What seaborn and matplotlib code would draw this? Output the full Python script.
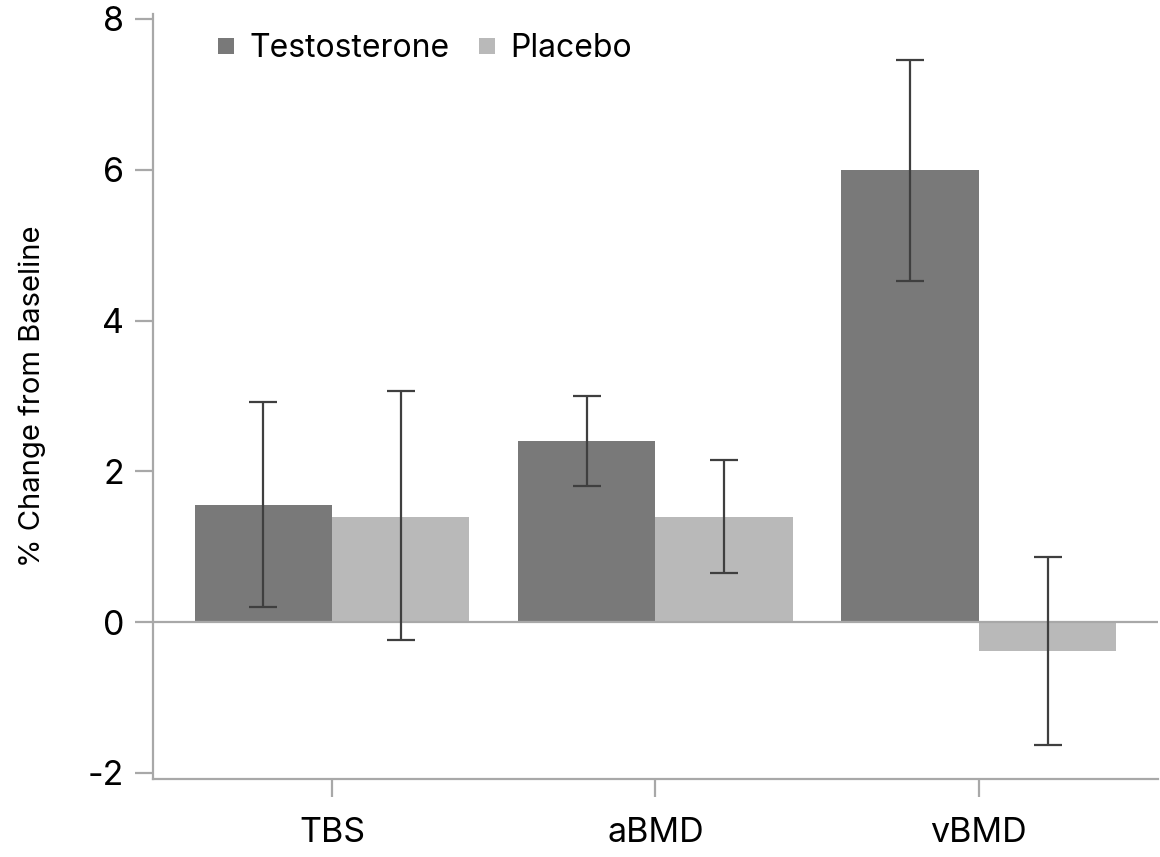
import numpy as np
import pandas as pd
import seaborn as sns
import matplotlib.pyplot as plt

# Values
measures = ["TBS", "aBMD", "vBMD"]
groups = ["Testosterone", "Placebo"]
testo_mean = [1.55, 2.40, 6.00]
testo_low = [0.20, 1.80, 4.53]
testo_high = [2.92, 3.00, 7.46]
placebo_mean = [1.40, 1.40, -0.38]
placebo_low = [-0.23, 0.65, -1.63]
placebo_high = [3.06, 2.15, 0.87]

df = pd.DataFrame({
    "measure": measures * 2,
    "group": [groups[0]] * 3 + [groups[1]] * 3,
    "change": testo_mean + placebo_mean,
})
lows = [testo_low, placebo_low]
highs = [testo_high, placebo_high]

sns.set_style("white")
plt.rcParams["font.family"] = ["Inter", "DejaVu Sans"]
plt.rcParams["axes.unicode_minus"] = False

colors = {"Testosterone": "#797979", "Placebo": "#b9b9b9"}
axis_grey = "#a8a8a8"

fig = plt.figure(figsize=(11.6, 8.57), dpi=100)
ax = fig.add_axes([0.132, 0.091, 0.866, 0.893])

sns.barplot(data=df, x="measure", y="change", hue="group", order=measures,
            hue_order=groups, palette=colors, width=0.85, errorbar=None,
            saturation=1, linewidth=0, ax=ax, legend=False)

ax.axhline(0, color=axis_grey, linewidth=1.6, zorder=3)

# Error bars at bar centres
bar_containers = list(ax.containers)
for i, cont in enumerate(bar_containers):
    xs = [p.get_x() + p.get_width() / 2 for p in cont]
    ys = np.array([p.get_y() + p.get_height() for p in cont])
    yerr = [ys - np.array(lows[i]), np.array(highs[i]) - ys]
    ax.errorbar(xs, ys, yerr=yerr, fmt="none", ecolor="#3f3f3f",
                elinewidth=1.6, capsize=10, capthick=1.6, zorder=4)

ax.set_xlim(-0.553, 2.553)
ax.set_ylim(-2.08, 8.07)
ax.set_yticks([-2, 0, 2, 4, 6, 8])
ax.set_xlabel("")
ax.set_ylabel("% Change from Baseline", fontsize=21, labelpad=30, color="black")

sns.despine(ax=ax)
for s in ["left", "bottom"]:
    ax.spines[s].set_color(axis_grey)
    ax.spines[s].set_linewidth(1.6)
ax.tick_params(axis="both", direction="out", length=13, width=1.6,
               color=axis_grey, labelsize=24.5, labelcolor="black",
               bottom=True, left=True)
ax.tick_params(axis="y", pad=8)
ax.tick_params(axis="x", pad=14)

# Legend with square markers
handles = [plt.Line2D([], [], marker="s", linestyle="", markersize=11,
                      markerfacecolor=colors[g], markeredgewidth=0) for g in groups]
leg = ax.legend(handles, groups, loc="upper left", bbox_to_anchor=(0.028, 1.012),
                ncol=2, frameon=False, fontsize=23, handletextpad=0.25,
                columnspacing=0.65, handlelength=1.0)
for t in leg.get_texts():
    t.set_color("black")

plt.savefig("out.png", dpi=100)
